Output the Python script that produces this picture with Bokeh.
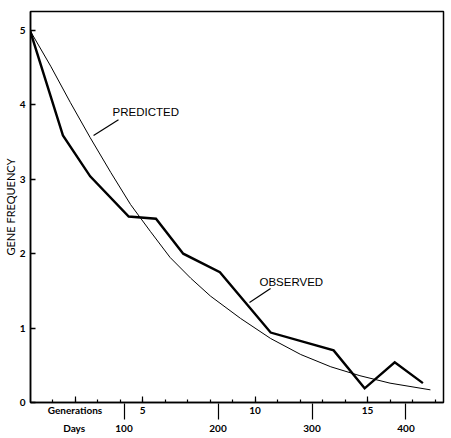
from bokeh.plotting import figure
from bokeh.models import Range1d, LinearAxis, FixedTicker, Label
from bokeh.embed import file_html
from bokeh.resources import INLINE

# ---- data ----
obs_days = [0, 35, 64, 105, 134, 163, 202, 256, 323, 356, 388, 418]
obs_freq = [5.00, 3.59, 3.04, 2.50, 2.47, 2.00, 1.75, 0.94, 0.70, 0.19, 0.54, 0.26]

pred_days = [0, 22, 43, 64, 86, 107, 128, 149, 171, 192, 224, 256, 288, 320, 351, 383, 426]
pred_freq = [5.00, 4.52, 4.03, 3.56, 3.09, 2.66, 2.30, 1.95, 1.67, 1.43, 1.13, 0.86, 0.645, 0.48, 0.36, 0.26, 0.17]

day_ticks = [100, 200, 300, 400]
gen_ticks = [5, 10, 15]
gen_minor_ticks = list(range(1, 19))
freq_ticks = [0, 1, 2, 3, 4, 5]
days_per_generation = 23.94

# row titles placed among the tick labels
gen_title, gen_title_at = "Generations", 2
day_title, day_title_at = "Days", 47

x_start, x_end = 0.5, 439.9
y_start, y_end = 0.0, 5.255

TICK_FONT = "Lato"
NOTE_FONT = "Liberation Sans"

p = figure(width=451, height=438,
           x_range=Range1d(x_start, x_end), y_range=Range1d(y_start, y_end),
           output_backend="svg", toolbar_location=None,
           x_axis_location=None, y_axis_location="left",
           min_border_left=30, min_border_right=8, min_border_top=11, min_border_bottom=36)
p.extra_x_ranges = {"gen": Range1d(x_start / days_per_generation, x_end / days_per_generation)}
p.grid.visible = False
p.outline_line_color = "black"
p.outline_line_width = 1.5
p.background_fill_color = "white"
p.border_fill_color = "white"

# y axis
ya = p.yaxis[0]
ya.ticker = FixedTicker(ticks=freq_ticks, minor_ticks=[])
ya.major_tick_in = 5
ya.major_tick_out = 0
ya.minor_tick_in = 0
ya.minor_tick_out = 0
ya.axis_line_width = 1.5
ya.major_tick_line_width = 1.5
ya.major_label_standoff = 5
ya.major_label_text_font = TICK_FONT
ya.major_label_text_font_size = "10px"
ya.major_label_text_font_style = "bold"
ya.major_label_text_color = "black"
ya.axis_label = "GENE FREQUENCY"
ya.axis_label_text_font = TICK_FONT
ya.axis_label_text_font_size = "11px"
ya.axis_label_text_font_style = "normal"
ya.axis_label_text_color = "black"
ya.axis_label_standoff = 0

# generations axis (next to the frame)
ga = LinearAxis(x_range_name="gen",
                ticker=FixedTicker(ticks=[gen_title_at] + gen_ticks, minor_ticks=gen_minor_ticks),
                major_label_overrides={gen_title_at: gen_title},
                major_tick_in=6, major_tick_out=0, minor_tick_in=3, minor_tick_out=0,
                axis_line_width=1.5, major_tick_line_width=1.2, minor_tick_line_width=1.2,
                major_label_standoff=1,
                major_label_text_font=TICK_FONT, major_label_text_font_size="10px",
                major_label_text_font_style="bold", major_label_text_color="black")
p.add_layout(ga, "below")

# days axis (tick marks drawn as "minor" ticks reaching up to the frame)
da = LinearAxis(ticker=FixedTicker(ticks=[day_title_at] + day_ticks, minor_ticks=day_ticks),
                major_label_overrides={day_title_at: day_title},
                axis_line_color=None,
                major_tick_line_color=None,
                minor_tick_in=15, minor_tick_out=1,
                major_tick_in=0, major_tick_out=1,
                minor_tick_line_width=1.2,
                major_label_standoff=2,
                major_label_text_font=TICK_FONT, major_label_text_font_size="10px",
                major_label_text_font_style="bold", major_label_text_color="black")
p.add_layout(da, "below")

# curves
p.line(pred_days, pred_freq, line_color="black", line_width=1.0)
p.line(obs_days, obs_freq, line_color="black", line_width=2.4, line_join="miter")

# curve notes
p.add_layout(Label(x=87.8, y=3.91, text="PREDICTED", text_font=NOTE_FONT,
                   text_font_size="11.5px", text_baseline="alphabetic", text_color="black"))
p.add_layout(Label(x=244.1, y=1.626, text="OBSERVED", text_font=NOTE_FONT,
                   text_font_size="11.5px", text_baseline="alphabetic", text_color="black"))
p.segment(x0=[94.1, 255.9], y0=[3.80, 1.532], x1=[67.6, 233.5], y1=[3.59, 1.344],
          line_color="black", line_width=1.2)

open("out.html", "w").write(file_html(p, INLINE))
